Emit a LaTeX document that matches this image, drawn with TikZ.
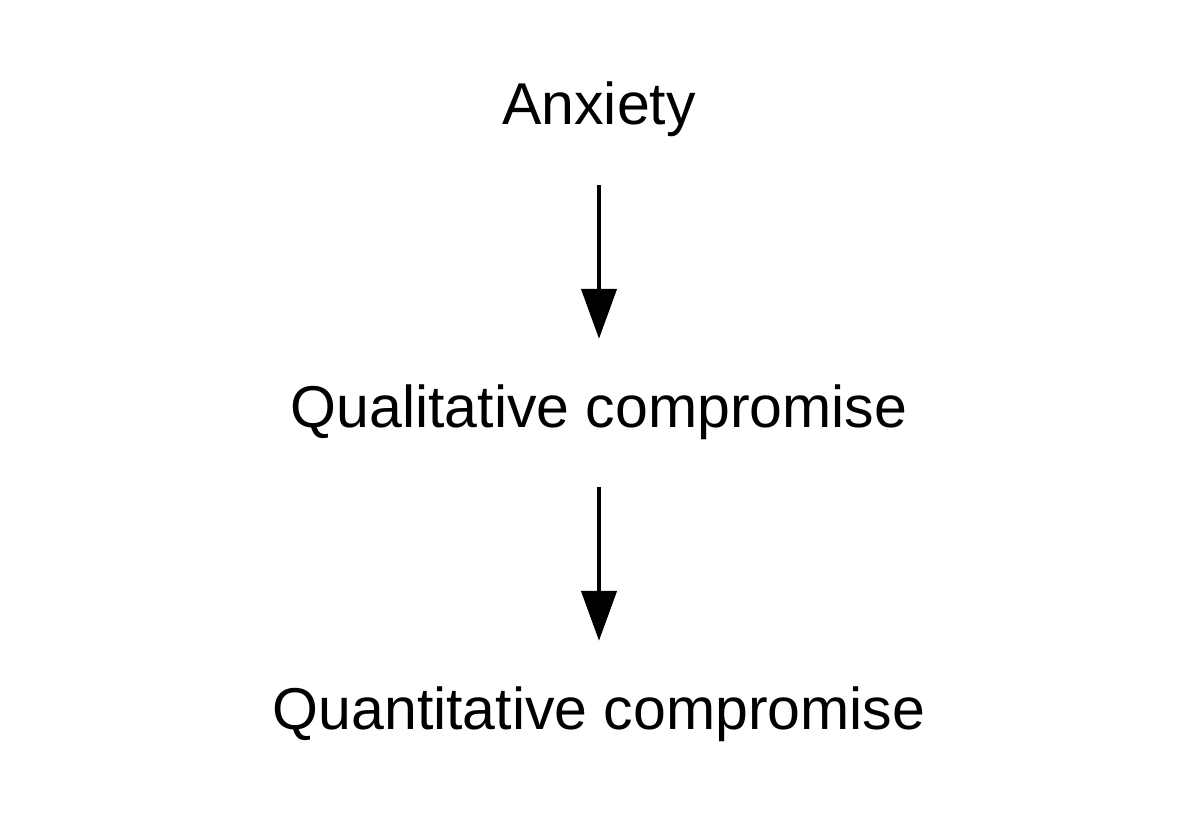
\documentclass[tikz,border=0pt]{standalone}
\usepackage{fontspec}
\setmainfont{Liberation Sans}
\usetikzlibrary{arrows.meta}

\begin{document}
\begin{tikzpicture}[x=1pt, y=-1pt,
    label text/.style={inner sep=0pt, text height=42pt, text depth=12pt, anchor=base, font=\fontsize{59}{65}\selectfont},
    flow arrow/.style={line width=4.5pt, -{Triangle[length=50pt, width=35pt]}, shorten <=48pt, shorten >=46pt}]
    \useasboundingbox (0,0) rectangle (1198,818);
    \node[label text] (anx) at (599,125) {Anxiety};
    \node[label text] (qual) at (599,427) {Qualitative compromise};
    \node[label text] (quant) at (599,729) {Quantitative compromise};
    \draw[flow arrow] (anx) -- (qual);
    \draw[flow arrow] (qual) -- (quant);
  \end{tikzpicture}
\end{document}
